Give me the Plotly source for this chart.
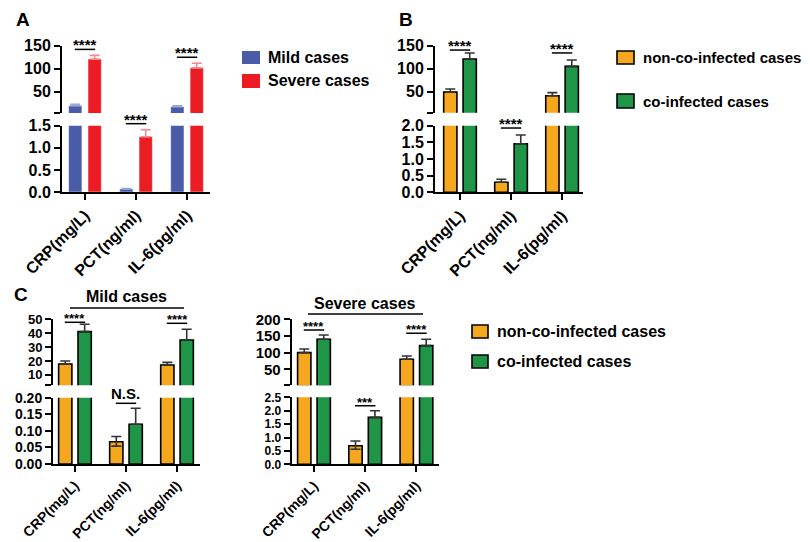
import plotly.graph_objects as go

W, H = 810, 542

# ---------------- DATA ----------------
categories = ["CRP(mg/L)", "PCT(ng/ml)", "IL-6(pg/ml)"]

# Panel A : mild vs severe
a_names = ["Mild cases", "Severe cases"]
a_mild = [20, 0.07, 18]
a_mild_err = [3, 0.01, 2]
a_severe = [121, 1.25, 102]
a_severe_err = [8, 0.16, 10]
a_sig = ["****", "****", "****"]

# Panel B : non-co-infected vs co-infected
b_names = ["non-co-infected cases", "co-infected cases"]
b_non = [49, 0.30, 41]
b_non_err = [7, 0.09, 7]
b_co = [121, 1.46, 105]
b_co_err = [13, 0.26, 14]
b_sig = ["****", "****", "****"]

# Panel C : mild cases
cm_title = "Mild cases"
cm_non = [17.8, 0.067, 17.1]
cm_non_err = [2.2, 0.016, 1.9]
cm_non_err_minus = [0, 0.013, 0]
cm_co = [41.1, 0.12, 35.1]
cm_co_err = [5.3, 0.048, 7.7]
cm_sig = ["****", "N.S.", "****"]

# Panel C : severe cases
cs_title = "Severe cases"
cs_non = [100, 0.69, 80]
cs_non_err = [11, 0.18, 10]
cs_non_err_minus = [0, 0.13, 0]
cs_co = [140, 1.75, 121]
cs_co_err = [13, 0.25, 19]
cs_sig = ["****", "***", "****"]

# tick values
a_low_ticks = [0, 0.5, 1.0, 1.5]
a_high_ticks = [50, 100, 150]
b_low_ticks = [0, 0.5, 1.0, 1.5, 2.0]
b_high_ticks = [50, 100, 150]
cm_low_ticks = [0, 0.05, 0.10, 0.15, 0.20]
cm_high_ticks = [10, 20, 30, 40, 50]
cs_low_ticks = [0, 0.5, 1.0, 1.5, 2.0, 2.5]
cs_high_ticks = [50, 100, 150, 200]

# ---------------- STYLE ----------------
FONT = "Liberation Sans, Arial, sans-serif"
BLUE, RED = "#4A5BA8", "#EC1C24"
ORANGE, GREEN = "#F5A81D", "#1E9547"

fig = go.Figure()
layout = dict(width=W, height=H, margin=dict(l=0, r=0, t=0, b=0, autoexpand=False),
              paper_bgcolor="white", plot_bgcolor="white", template="none",
              barmode="overlay", showlegend=False,
              font=dict(family=FONT, color="black"))
shapes, annotations = [], []


def X(px):
    return px / W


def Y(py):
    return 1 - py / H


def val_to_py(v, rng, dom):
    top, bot = dom
    return bot - (v - rng[0]) / (rng[1] - rng[0]) * (bot - top)


def add_panel(idx, xdom, low_dom, high_dom, xrange, low_rng, high_rng,
              low_ticks, low_fmt, high_ticks, series, sig, sig_gap,
              low_size, high_size, x_size, star_size):
    xa = "x" if idx == 1 else f"x{idx}"
    ylow_n, yhigh_n = 2 * idx - 1, 2 * idx
    yl = "y" if ylow_n == 1 else f"y{ylow_n}"
    yh = f"y{yhigh_n}"
    xkey = "xaxis" if idx == 1 else f"xaxis{idx}"
    ylkey = "yaxis" if ylow_n == 1 else f"yaxis{ylow_n}"
    yhkey = f"yaxis{yhigh_n}"
    common = dict(ticks="outside", ticklen=6, tickwidth=2, tickcolor="black",
                  showline=True, linewidth=2, linecolor="black",
                  showgrid=False, zeroline=False, automargin=False)
    layout[xkey] = dict(domain=[X(xdom[0]), X(xdom[1])], range=xrange, anchor=yl,
                        tickvals=[0, 1, 2], ticktext=categories, tickangle=-45,
                        tickfont=dict(family=FONT, size=x_size, color="black", weight="bold"),
                        **common)
    layout[ylkey] = dict(domain=[Y(low_dom[1]), Y(low_dom[0])], range=low_rng, anchor=xa,
                         tickvals=low_ticks, tickformat=low_fmt,
                         tickfont=dict(family=FONT, size=low_size, color="black", weight="bold"),
                         **common)
    layout[yhkey] = dict(domain=[Y(high_dom[1]), Y(high_dom[0])], range=high_rng, anchor=xa,
                         tickvals=[high_rng[0]] + high_ticks,
                         ticktext=[""] + [str(t) for t in high_ticks],
                         tickfont=dict(family=FONT, size=high_size, color="black", weight="bold"),
                         **common)
    for s in series:
        minus = s.get("minus", [0, 0, 0])
        for yaxis, rng in ((yl, low_rng), (yh, high_rng)):
            yv = [v if v > rng[0] else None for v in s["y"]]
            fig.add_trace(go.Bar(
                x=[0, 1, 2], y=yv, name=s["name"], xaxis=xa, yaxis=yaxis,
                width=0.26, offset=s["offset"],
                marker=dict(color=s["color"], line=dict(color=s["lc"], width=s["lw"])),
                error_y=dict(type="data", array=s["err"], arrayminus=minus, symmetric=False,
                             color=s["ec"], thickness=1.6, width=5),
                showlegend=False, hoverinfo="skip"))
    # significance brackets
    for i in range(3):
        top = max(series[0]["y"][i] + series[0]["err"][i], series[1]["y"][i] + series[1]["err"][i])
        if top > high_rng[0]:
            py = val_to_py(top, high_rng, high_dom)
        else:
            py = val_to_py(top, low_rng, low_dom)
        py -= sig_gap[i]
        shapes.append(dict(type="line", xref=xa, yref="paper", x0=i - 0.2, x1=i + 0.2,
                           y0=Y(py), y1=Y(py), line=dict(color="black", width=1.5)))
        is_text = sig[i].startswith("N")
        annotations.append(dict(xref=xa, yref="paper", x=i, y=Y(py), text=sig[i],
                                showarrow=False, yanchor="bottom", xanchor="center",
                                yshift=(-1 if is_text else -6),
                                font=dict(family=FONT, size=(15 if is_text else star_size),
                                          color="black", weight="bold")))


# Panel A
add_panel(1, (62, 210), (125.7, 192), (45.7, 113), [-0.45, 2.45], [0, 1.5], [4.3, 150],
          a_low_ticks, ".1f", a_high_ticks,
          [dict(name=a_names[0], y=a_mild, err=a_mild_err, offset=-0.32, color=BLUE,
                lc="rgba(255,255,255,0.45)", lw=1, ec="#9AA6D6"),
           dict(name=a_names[1], y=a_severe, err=a_severe_err, offset=0.06, color=RED,
                lc="rgba(255,255,255,0.45)", lw=1, ec="#F08A8F")],
          a_sig, [6, 6, 6], 16, 16, 16, 15)

# Panel B
add_panel(2, (435, 583), (125.7, 192.3), (45.7, 112.7), [-0.49, 2.41], [0, 2.0], [4.3, 150],
          b_low_ticks, ".1f", b_high_ticks,
          [dict(name=b_names[0], y=b_non, err=b_non_err, offset=-0.32, color=ORANGE,
                lc="black", lw=1.6, ec="#333333"),
           dict(name=b_names[1], y=b_co, err=b_co_err, offset=0.06, color=GREEN,
                lc="black", lw=1.6, ec="#333333")],
          b_sig, [3, 7, 7], 16, 16, 16, 15)

# Panel C mild
add_panel(3, (53, 200), (397.7, 464), (319.3, 385.3), [-0.43, 2.45], [0, 0.2], [2.5, 50],
          cm_low_ticks, ".2f", cm_high_ticks,
          [dict(name=b_names[0], y=cm_non, err=cm_non_err, minus=cm_non_err_minus, offset=-0.32,
                color=ORANGE, lc="black", lw=1.6, ec="#333333"),
           dict(name=b_names[1], y=cm_co, err=cm_co_err, offset=0.06, color=GREEN,
                lc="black", lw=1.6, ec="#333333")],
          cm_sig, [2, 5, 6], 14, 13, 14, 13)

# Panel C severe
add_panel(4, (291.7, 439), (397.3, 464.3), (319.3, 385.3), [-0.435, 2.44], [0, 2.5], [2, 200],
          cs_low_ticks, ".1f", cs_high_ticks,
          [dict(name=b_names[0], y=cs_non, err=cs_non_err, minus=cs_non_err_minus, offset=-0.32,
                color=ORANGE, lc="black", lw=1.6, ec="#333333"),
           dict(name=b_names[1], y=cs_co, err=cs_co_err, offset=0.06, color=GREEN,
                lc="black", lw=1.6, ec="#333333")],
          cs_sig, [5, 5, 6], 12, 15, 14, 13)

# panel letters
for txt, (px, py) in zip(["A", "B", "C"], [(23, 20), (406, 20), (21, 294)]):
    annotations.append(dict(xref="paper", yref="paper", x=X(px), y=Y(py), text=txt,
                            showarrow=False, xanchor="center", yanchor="middle",
                            font=dict(family=FONT, size=19, color="black", weight="bold")))

# group titles in C
for txt, (cx, cy), (lx0, lx1, ly) in zip([cm_title, cs_title], [(126, 296), (365, 303)],
                                          [(70, 184, 308), (308, 423, 314)]):
    annotations.append(dict(xref="paper", yref="paper", x=X(cx), y=Y(cy), text=txt,
                            showarrow=False, xanchor="center", yanchor="middle",
                            font=dict(family=FONT, size=16, color="black", weight="bold")))
    shapes.append(dict(type="line", xref="paper", yref="paper", x0=X(lx0), x1=X(lx1),
                       y0=Y(ly), y1=Y(ly), line=dict(color="black", width=1.5)))


# legends
def legend_item(x0, x1, y0, y1, fill, lc, lw, text, tx, size):
    shapes.append(dict(type="rect", xref="paper", yref="paper", x0=X(x0), x1=X(x1),
                       y0=Y(y1), y1=Y(y0), fillcolor=fill, line=dict(color=lc, width=lw)))
    annotations.append(dict(xref="paper", yref="paper", x=X(tx), y=Y((y0 + y1) / 2), text=text,
                            showarrow=False, xanchor="left", yanchor="middle",
                            font=dict(family=FONT, size=size, color="black", weight="bold")))


legend_item(242, 260, 51, 64, BLUE, "rgba(255,255,255,0)", 0, a_names[0], 266, 16)
legend_item(242, 260, 74, 88, RED, "rgba(255,255,255,0)", 0, a_names[1], 266, 16)
legend_item(617, 634, 51, 64, ORANGE, "black", 1.6, b_names[0], 641, 15)
legend_item(617, 634, 94, 108, GREEN, "black", 1.6, b_names[1], 641, 15)
legend_item(472, 488, 325, 338, ORANGE, "black", 1.6, b_names[0], 495, 16)
legend_item(472, 488, 355, 368, GREEN, "black", 1.6, b_names[1], 495, 16)

layout["shapes"] = shapes
layout["annotations"] = annotations
fig.update_layout(**layout)
fig.write_html("out.html", config={"displayModeBar": False},
               post_script="document.body.style.margin='0px';document.body.style.overflow='hidden';")
